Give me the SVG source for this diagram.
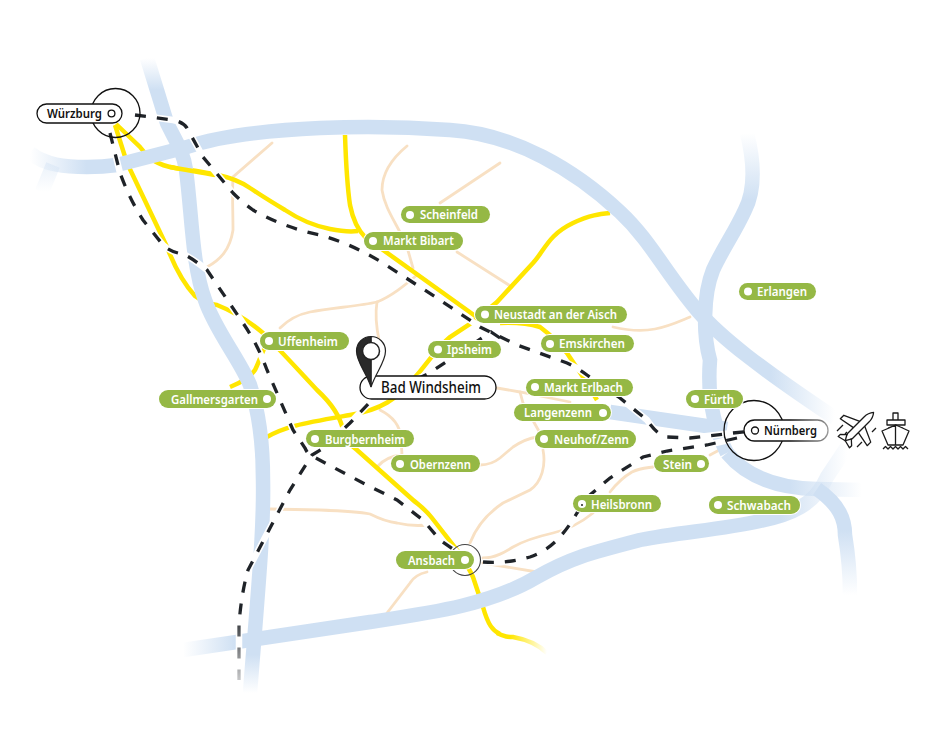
<svg xmlns="http://www.w3.org/2000/svg" width="940" height="753" viewBox="0 0 940 753">
<style>
.b{fill:none;stroke-width:14.500}
.p{fill:none;stroke:#f8e0c3;stroke-width:2.800;stroke-linecap:round}
.y{fill:none;stroke:#ffe600;stroke-width:4.500}
.w{fill:none;stroke:#fff;stroke-width:6.500}
.d{fill:none;stroke:#1f2328;stroke-width:3.300;stroke-dasharray:11 11}
.g rect{fill:#95b845;stroke:#fff;stroke-width:2;paint-order:stroke}
.g circle{fill:#fff}
.g text,.k text{font-family:"Noto Sans","Open Sans",sans-serif;font-size:13px;font-weight:600}
.g text{fill:#fff}
.k text{fill:#111}
.k rect{fill:#fff;stroke:#111;stroke-width:1.300}
.k circle{fill:#fff;stroke:#111;stroke-width:1.300}
.r{fill:none;stroke:#111;stroke-width:1.300}
.i{fill:none;stroke:#1a1a1a;stroke-width:1.300;stroke-linejoin:round}
</style>
<defs>
<linearGradient id="gA" gradientUnits="userSpaceOnUse" x1="0" y1="58" x2="0" y2="693"><stop offset="0" stop-color="#cfe0f3" stop-opacity="0"/><stop offset=".05" stop-color="#cfe0f3"/><stop offset=".94" stop-color="#cfe0f3"/><stop offset="1" stop-color="#cfe0f3" stop-opacity="0"/></linearGradient>
<linearGradient id="gB" gradientUnits="userSpaceOnUse" x1="30" y1="0" x2="835" y2="0"><stop offset="0" stop-color="#cfe0f3" stop-opacity="0"/><stop offset=".07" stop-color="#cfe0f3"/><stop offset=".92" stop-color="#cfe0f3"/><stop offset="1" stop-color="#cfe0f3" stop-opacity="0"/></linearGradient>
<linearGradient id="gC" gradientUnits="userSpaceOnUse" x1="0" y1="133" x2="0" y2="200"><stop offset="0" stop-color="#cfe0f3" stop-opacity="0"/><stop offset="1" stop-color="#cfe0f3"/></linearGradient>
<linearGradient id="gD" gradientUnits="userSpaceOnUse" x1="790" y1="0" x2="862" y2="0"><stop offset="0" stop-color="#cfe0f3"/><stop offset="1" stop-color="#cfe0f3" stop-opacity="0"/></linearGradient>
<linearGradient id="gE" gradientUnits="userSpaceOnUse" x1="0" y1="530" x2="0" y2="595"><stop offset="0" stop-color="#cfe0f3"/><stop offset="1" stop-color="#cfe0f3" stop-opacity="0"/></linearGradient>
<linearGradient id="gF" gradientUnits="userSpaceOnUse" x1="183" y1="0" x2="847" y2="0"><stop offset="0" stop-color="#cfe0f3" stop-opacity="0"/><stop offset=".08" stop-color="#cfe0f3"/><stop offset=".9" stop-color="#cfe0f3"/><stop offset="1" stop-color="#cfe0f3" stop-opacity="0"/></linearGradient>
<linearGradient id="gG" gradientUnits="userSpaceOnUse" x1="0" y1="165" x2="0" y2="192"><stop offset="0" stop-color="#cfe0f3" stop-opacity=".4"/><stop offset="1" stop-color="#cfe0f3" stop-opacity="0"/></linearGradient>
<linearGradient id="gY" gradientUnits="userSpaceOnUse" x1="510" y1="0" x2="547" y2="0"><stop offset="0" stop-color="#ffe600"/><stop offset="1" stop-color="#ffe600" stop-opacity="0"/></linearGradient>
<linearGradient id="gK" gradientUnits="userSpaceOnUse" x1="0" y1="610" x2="0" y2="685"><stop offset="0" stop-color="#1f2328"/><stop offset="1" stop-color="#1f2328" stop-opacity=".2"/></linearGradient>
<linearGradient id="gN" gradientUnits="userSpaceOnUse" x1="790" y1="0" x2="828" y2="0"><stop offset="0" stop-color="#111"/><stop offset="1" stop-color="#999"/></linearGradient>
</defs>
<g id="connectors">
<g id="local-roads">
<path class="p" d="M272 143L233 177C232 195 233 210 233 230C230 250 220 260 207 267"/>
<path class="p" d="M407 146C390 160 382 175 382 190C385 210 398 225 407 247L413 268"/>
<path class="p" d="M500 163L440 203"/>
<path class="p" d="M280 328C290 318 300 314 310 312C330 308 360 306 377 302C392 296 405 285 417 275"/>
<path class="p" d="M377 302C374 320 378 335 380 345L383 360"/>
<path class="p" d="M457 252L512 287"/>
<path class="p" d="M613 327C630 331 645 331 655 329C670 326 680 321 690 317"/>
<path class="p" d="M497 388L520 392L570 402"/>
<path class="p" d="M520 392L523 403L540 433"/>
<path class="p" d="M480 465C490 465 495 462 500 458L513 447C522 441 530 438 537 437"/>
<path class="p" d="M543 450C546 465 542 482 530 490L503 503C485 515 475 530 470 543"/>
<path class="p" d="M483 558C495 558 505 552 513 547C525 540 540 536 553 533C570 529 582 522 593 513"/>
<path class="p" d="M610 492C617 483 625 476 632 472C640 468 646 468 653 467"/>
<path class="p" d="M710 455L723 448"/>
<path class="p" d="M483 563L537 572"/>
<path class="p" d="M427 572C418 574 413 578 410 583L387 613"/>
<path class="p" d="M270 509L320 510C345 511 360 512 370 514C380 519 388 522 397 523C410 526 418 526 427 525"/>
<path class="p" d="M380 410C392 416 400 425 401 438L402 455C390 456 382 461 377 467"/>
</g>
<g id="motorways">
<path class="y" d="M116 124L140 147C150 160 158 165 175 168C190 170 205 172 218 175C232 178 240 181 250 188C265 198 275 204 285 210C300 220 315 226 330 229C340 231 350 232 358 231"/>
<path class="y" d="M345 135C346 165 347 185 350 205C353 220 357 229 365 237L478 318"/>
<path class="y" d="M500 323C520 322 530 324 540 327C552 336 560 344 567 353L583 377L597 400"/>
<path class="y" d="M115 125L127 163L167 247C175 268 185 285 195 296C203 302 210 304 217 305C235 312 250 322 263 333C285 355 300 372 317 390C330 402 340 415 343 430L345 440L357 450L413 500C420 506 426 510 432 518L457 550C465 562 470 570 473 577L483 607C488 625 493 631 500 634"/>
<path d="M497 633C505 637 508 637 513 637C530 640 540 646 547 653" fill="none" stroke="url(#gY)" stroke-width="4.500"/>
<path class="y" d="M265 438C285 426 305 423 350 415C380 410 397 400 417 375C428 362 438 347 450 337L473 322L497 302L533 263C545 250 548 235 573 223C590 215 600 214 610 213"/>
<path class="y" d="M230 387C240 383 250 377 255 370C259 362 262 352 267 343"/>
</g>
<g id="rivers">
<path class="b" stroke="url(#gA)" d="M147 58L167 123C175 140 183 150 186 170C192 215 192 265 205 300C215 330 240 360 250 385C260 415 263 450 263 480C264 530 258 590 250 693"/>
<path class="b" stroke="url(#gB)" d="M30 153C45 165 65 167 87 167C100 167 110 166 117 165L187 147C225 134 275 130 320 128C365 126 410 127 450 130C515 134 575 170 620 212C650 240 665 272 697 310C720 337 760 368 835 418"/>
<path class="b" stroke="url(#gG)" d="M53 165L42 192"/>
<path class="b" stroke="url(#gC)" d="M747 133C755 165 755 190 745 210C735 232 722 250 713 270C703 295 703 335 710 360C708 385 710 420 727 453"/>
<path class="b" stroke="url(#gD)" d="M727 453C745 475 773 488 817 489L862 490"/>
<path class="b" stroke="url(#gE)" d="M817 489C840 505 845 520 845 535C850 565 850 580 850 595"/>
<path class="b" stroke="url(#gF)" d="M183 650L370 622C430 613 490 605 537 577C570 558 590 553 640 540C680 532 720 530 760 521C790 515 815 505 827 477L847 447"/>
<path class="b" stroke="#cfe0f3" d="M610 412L727 429"/>
</g>
<path class="y" d="M170 167C185 170 200 172 215 175"/>
<g id="rail">
<path class="w" d="M135 115L173 120Q183 122 187 128L203 157L233 193Q243 203 253 210Q285 228 320 235Q350 243 383 263L440 300L480 327L517 345L567 363Q578 368 587 375L620 398L647 420Q657 435 667 437L690 438L733 433L752 431"/>
<path class="w" d="M110 133L120 173Q130 200 143 220L163 245Q170 252 183 254Q192 258 207 270L243 323Q258 345 267 370L293 430L305 448Q308 455 312 456L363 483L397 500L423 520L440 540L457 552"/>
<path class="w" d="M500 338L491 332L428 374L372 400L350 423L322 449L312 455L290 490L248 570Q241 595 239 625L239 680"/>
<path class="w" d="M737 438L707 445L667 451L643 457L610 478L590 495L577 513Q567 530 557 540Q545 552 530 557Q505 564 483 562"/>
<path class="d" d="M135 115L173 120Q183 122 187 128L203 157L233 193Q243 203 253 210Q285 228 320 235Q350 243 383 263L440 300L480 327L517 345L567 363Q578 368 587 375L620 398L647 420Q657 435 667 437L690 438L733 433L752 431"/>
<path class="d" d="M110 133L120 173Q130 200 143 220L163 245Q170 252 183 254Q192 258 207 270L243 323Q258 345 267 370L293 430L305 448Q308 455 312 456L363 483L397 500L423 520L440 540L457 552"/>
<path class="d" style="stroke:url(#gK)" d="M500 338L491 332L428 374L372 400L350 423L322 449L312 455L290 490L248 570Q241 595 239 625L239 680"/>
<path class="d" d="M737 438L707 445L667 451L643 457L610 478L590 495L577 513Q567 530 557 540Q545 552 530 557Q505 564 483 562"/>
</g>
</g>
<g id="node-wuerzburg" class="k">
<circle class="r" cx="115.500" cy="113" r="24.500" style="fill:none"/>
<rect x="37" y="104" width="85" height="19" rx="9.500"/>
<circle cx="111.500" cy="113.500" r="3.400"/>
<text x="47" y="118" textLength="55" lengthAdjust="spacingAndGlyphs">Würzburg</text>
</g>
<g id="node-nuernberg" class="k">
<circle class="r" cx="754" cy="430.500" r="30" style="fill:none"/>
<rect x="744" y="420" width="84" height="21" rx="10.500" style="stroke:url(#gN)"/>
<circle cx="755" cy="430.500" r="3.500"/>
<text x="764" y="435" textLength="53" lengthAdjust="spacingAndGlyphs">Nürnberg</text>
</g>
<g id="node-scheinfeld" class="g"><rect x="401" y="206" width="89" height="17" rx="8.500"/><circle cx="410" cy="215" r="4"/><text x="420" y="219" textLength="58" lengthAdjust="spacingAndGlyphs">Scheinfeld</text></g>
<g id="node-markt-bibart" class="g"><rect x="364" y="232" width="99" height="18" rx="9"/><circle cx="373" cy="241" r="4"/><text x="383" y="245" textLength="71" lengthAdjust="spacingAndGlyphs">Markt Bibart</text></g>
<g id="node-neustadt" class="g"><rect x="475" y="306" width="152" height="17" rx="8.500"/><circle cx="485" cy="314.500" r="4"/><text x="494" y="319" textLength="123" lengthAdjust="spacingAndGlyphs">Neustadt an der Aisch</text></g>
<g id="node-emskirchen" class="g"><rect x="541" y="335" width="93" height="17" rx="8.500"/><circle cx="550" cy="344" r="4"/><text x="559" y="348" textLength="66" lengthAdjust="spacingAndGlyphs">Emskirchen</text></g>
<g id="node-ipsheim" class="g"><rect x="428" y="341" width="73" height="17" rx="8.500"/><circle cx="438" cy="349.500" r="4"/><text x="447" y="354" textLength="45" lengthAdjust="spacingAndGlyphs">Ipsheim</text></g>
<g id="node-markt-erlbach" class="g"><rect x="526" y="379" width="107" height="17" rx="8.500"/><circle cx="535" cy="387" r="4"/><text x="544" y="392" textLength="79" lengthAdjust="spacingAndGlyphs">Markt Erlbach</text></g>
<g id="node-langenzenn" class="g"><rect x="514" y="404" width="97" height="17" rx="8.500"/><circle cx="603" cy="413" r="4"/><text x="524" y="417" textLength="68" lengthAdjust="spacingAndGlyphs">Langenzenn</text></g>
<g id="node-neuhof" class="g"><rect x="535" y="430" width="101" height="18" rx="9"/><circle cx="544" cy="439" r="4"/><text x="554" y="443.500" textLength="75" lengthAdjust="spacingAndGlyphs">Neuhof/Zenn</text></g>
<g id="node-obernzenn" class="g"><rect x="391" y="455" width="89" height="17" rx="8.500"/><circle cx="400" cy="464" r="4"/><text x="410" y="468.500" textLength="61" lengthAdjust="spacingAndGlyphs">Obernzenn</text></g>
<g id="node-heilsbronn" class="g"><rect x="573" y="495" width="88" height="17" rx="8.500"/><circle cx="582" cy="504" r="4"/><circle cx="582" cy="505" r="1" style="fill:#222"/><text x="591" y="508.500" textLength="61" lengthAdjust="spacingAndGlyphs">Heilsbronn</text></g>
<circle id="ring-ansbach" cx="465" cy="560" r="15.500" fill="none" stroke="#444" stroke-width="1.100"/>
<g id="node-ansbach" class="g"><rect x="396" y="551" width="78" height="18" rx="9"/><circle cx="465" cy="560" r="4"/><text x="408" y="565" textLength="47" lengthAdjust="spacingAndGlyphs">Ansbach</text></g>
<g id="node-stein" class="g"><rect x="654" y="455" width="55" height="17" rx="8.500"/><circle cx="701" cy="464" r="4"/><text x="663" y="468.500" textLength="29" lengthAdjust="spacingAndGlyphs">Stein</text></g>
<g id="node-fuerth" class="g"><rect x="686" y="390" width="57" height="18" rx="9"/><circle cx="695" cy="399" r="4"/><text x="704" y="403.500" textLength="30" lengthAdjust="spacingAndGlyphs">Fürth</text></g>
<g id="node-schwabach" class="g"><rect x="709" y="496" width="91" height="18" rx="9"/><circle cx="718" cy="505" r="4"/><text x="727" y="510" textLength="64" lengthAdjust="spacingAndGlyphs">Schwabach</text></g>
<g id="node-erlangen" class="g"><rect x="739" y="283" width="77" height="17" rx="8.500"/><circle cx="748" cy="291.500" r="4"/><text x="757" y="296" textLength="50" lengthAdjust="spacingAndGlyphs">Erlangen</text></g>
<g id="node-uffenheim" class="g"><rect x="260" y="332" width="89" height="18" rx="9"/><circle cx="269" cy="341" r="4"/><text x="278" y="345.500" textLength="60" lengthAdjust="spacingAndGlyphs">Uffenheim</text></g>
<g id="node-gallmersgarten" class="g"><rect x="159" y="390" width="117" height="18" rx="9"/><circle cx="267" cy="399" r="4"/><text x="171" y="403.500" textLength="87" lengthAdjust="spacingAndGlyphs">Gallmersgarten</text></g>
<g id="node-burgbernheim" class="g"><rect x="306" y="430" width="108" height="17" rx="8.500"/><circle cx="315" cy="439" r="4"/><text x="325" y="443.500" textLength="80" lengthAdjust="spacingAndGlyphs">Burgbernheim</text></g>
<g id="node-bad-windsheim">
<rect x="360" y="376" width="136" height="23" rx="11.500" fill="#fff" stroke="#111" stroke-width="1.300"/>
<text x="381" y="393" font-family="'Noto Sans','Open Sans',sans-serif" font-size="15.500" font-weight="500" fill="#111" textLength="100" lengthAdjust="spacingAndGlyphs">Bad Windsheim</text>
<path d="M371 336.500C379 336.500 385.500 343 385.500 351C385.500 362 376 372 371 387Z" fill="#fff" stroke="#222" stroke-width="1.200"/>
<path d="M371 336.500C363 336.500 356.500 343 356.500 351C356.500 362 366 372 371 387Z" fill="#2a2a2a" stroke="#222" stroke-width="1.200"/>
<circle cx="371" cy="351" r="8.500" fill="#fff" stroke="#222" stroke-width="1.500"/>
</g>
<g id="icon-plane" class="i">
<g transform="translate(858 428) rotate(45)">
<path d="M0 -22Q3.500 -18 3.500 -12L3.500 12L0 18L-3.500 12L-3.500 -12Q-3.500 -18 0 -22Z"/>
<path d="M-3.500 -6L-19 1L-19 6L-3.500 3M3.500 -6L19 1L19 6L3.500 3"/>
<path d="M-2.500 12L-8 17L-8 20L0 18L8 20L8 17L2.500 12"/>
</g>
<path d="M837 431L843 425M857 447L862 442M872 432L876 428M845 434L847 432"/>
</g>
<g id="icon-ship" class="i">
<path d="M893 413H898V420H893ZM887 420H905V425H887Z"/>
<path d="M896 425L882 431L888 445H903L909 431ZM895.500 425V445M888 428L895.500 425L903 428"/>
<path d="M883 449l2.500 -2.500 2.500 2.500 2.500 -2.500 2.500 2.500 2.500 -2.500 2.500 2.500 2.500 -2.500 2.500 2.500 2.500 -2.500 2.500 2.500"/>
</g>
</svg>
